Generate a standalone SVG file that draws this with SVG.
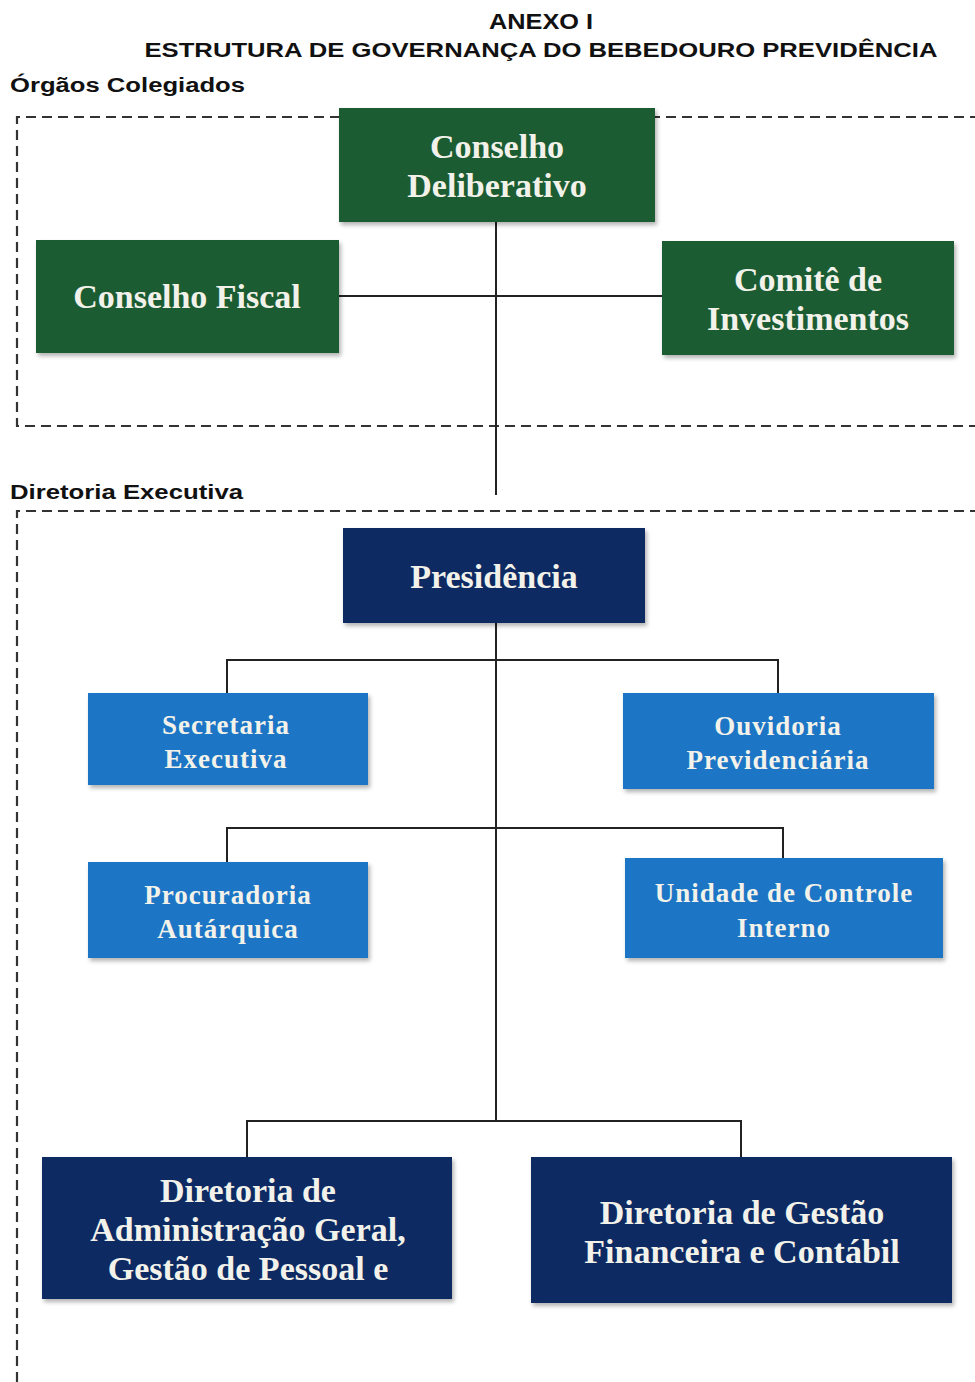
<svg xmlns="http://www.w3.org/2000/svg" width="975" height="1382" viewBox="0 0 975 1382">
<style>
.hdr{font-family:"Liberation Sans",Arial,sans-serif;font-weight:bold;fill:#111}
.nt{font-family:"Liberation Serif","Times New Roman",serif;font-weight:bold;fill:#f2f2ea;text-anchor:middle}
.big{font-size:34px}
.sm{font-size:27px;letter-spacing:1px}
.g{fill:#1c5c31}
.n{fill:#0f2a63}
.b{fill:#1a74c5}
.dash{fill:none;stroke:#333;stroke-width:2.2;stroke-dasharray:10,6}
.c{fill:none;stroke:#222;stroke-width:2}
</style>
<defs>
<filter id="sh" x="-5%" y="-5%" width="115%" height="120%">
<feDropShadow dx="2" dy="3" stdDeviation="2" flood-color="#000" flood-opacity="0.3"/>
</filter>
</defs>
<rect width="975" height="1382" fill="#fff"/>
<text class="hdr" x="541" y="29" font-size="22" text-anchor="middle" textLength="104" lengthAdjust="spacingAndGlyphs">ANEXO I</text>
<text class="hdr" x="541" y="57" font-size="21" text-anchor="middle" textLength="793" lengthAdjust="spacingAndGlyphs">ESTRUTURA DE GOVERNANÇA DO BEBEDOURO PREVIDÊNCIA</text>
<text class="hdr" x="10" y="92" font-size="20" textLength="235" lengthAdjust="spacingAndGlyphs">Órgãos Colegiados</text>
<text class="hdr" x="10" y="499" font-size="20" textLength="233" lengthAdjust="spacingAndGlyphs">Diretoria Executiva</text>
<g id="areas">
<path class="dash" d="M980,117 H17 V426 H980"/>
<path class="dash" d="M980,511 H17 V1382"/>
</g>
<g id="connectors">
<line class="c" x1="496" y1="222" x2="496" y2="495"/>
<line class="c" x1="339" y1="296" x2="662" y2="296"/>
<line class="c" x1="496" y1="623" x2="496" y2="1120"/>
<path class="c" d="M227,693 V660 H778 V693"/>
<path class="c" d="M227,862 V828 H783 V858"/>
<path class="c" d="M247,1157 V1121 H741 V1157"/>
</g>
<g id="conselho-deliberativo">
<rect class="g" x="339" y="108" width="316" height="114" filter="url(#sh)"/>
<text class="nt big" x="497" y="158">Conselho</text>
<text class="nt big" x="497" y="197">Deliberativo</text>
</g>
<g id="conselho-fiscal">
<rect class="g" x="36" y="240" width="303" height="113" filter="url(#sh)"/>
<text class="nt big" x="187" y="308">Conselho Fiscal</text>
</g>
<g id="comite-investimentos">
<rect class="g" x="662" y="241" width="292" height="114" filter="url(#sh)"/>
<text class="nt big" x="808" y="291">Comitê de</text>
<text class="nt big" x="808" y="330">Investimentos</text>
</g>
<g id="presidencia">
<rect class="n" x="343" y="528" width="302" height="95" filter="url(#sh)"/>
<text class="nt big" x="494" y="588">Presidência</text>
</g>
<g id="secretaria-executiva">
<rect class="b" x="88" y="693" width="280" height="92" filter="url(#sh)"/>
<text class="nt sm" x="226" y="734">Secretaria</text>
<text class="nt sm" x="226" y="768">Executiva</text>
</g>
<g id="ouvidoria">
<rect class="b" x="623" y="693" width="311" height="96" filter="url(#sh)"/>
<text class="nt sm" x="778" y="735">Ouvidoria</text>
<text class="nt sm" x="778" y="769">Previdenciária</text>
</g>
<g id="procuradoria">
<rect class="b" x="88" y="862" width="280" height="96" filter="url(#sh)"/>
<text class="nt sm" x="228" y="904">Procuradoria</text>
<text class="nt sm" x="228" y="938">Autárquica</text>
</g>
<g id="controle-interno">
<rect class="b" x="625" y="858" width="318" height="100" filter="url(#sh)"/>
<text class="nt sm" x="784" y="902">Unidade de Controle</text>
<text class="nt sm" x="784" y="937">Interno</text>
</g>
<g id="diretoria-administracao">
<rect class="n" x="42" y="1157" width="410" height="142" filter="url(#sh)"/>
<text class="nt big" x="248" y="1202">Diretoria de</text>
<text class="nt big" x="248" y="1241">Administração Geral,</text>
<text class="nt big" x="248" y="1280">Gestão de Pessoal e</text>
</g>
<g id="diretoria-financeira">
<rect class="n" x="531" y="1157" width="421" height="146" filter="url(#sh)"/>
<text class="nt big" x="742" y="1224">Diretoria de Gestão</text>
<text class="nt big" x="742" y="1263">Financeira e Contábil</text>
</g>
</svg>
